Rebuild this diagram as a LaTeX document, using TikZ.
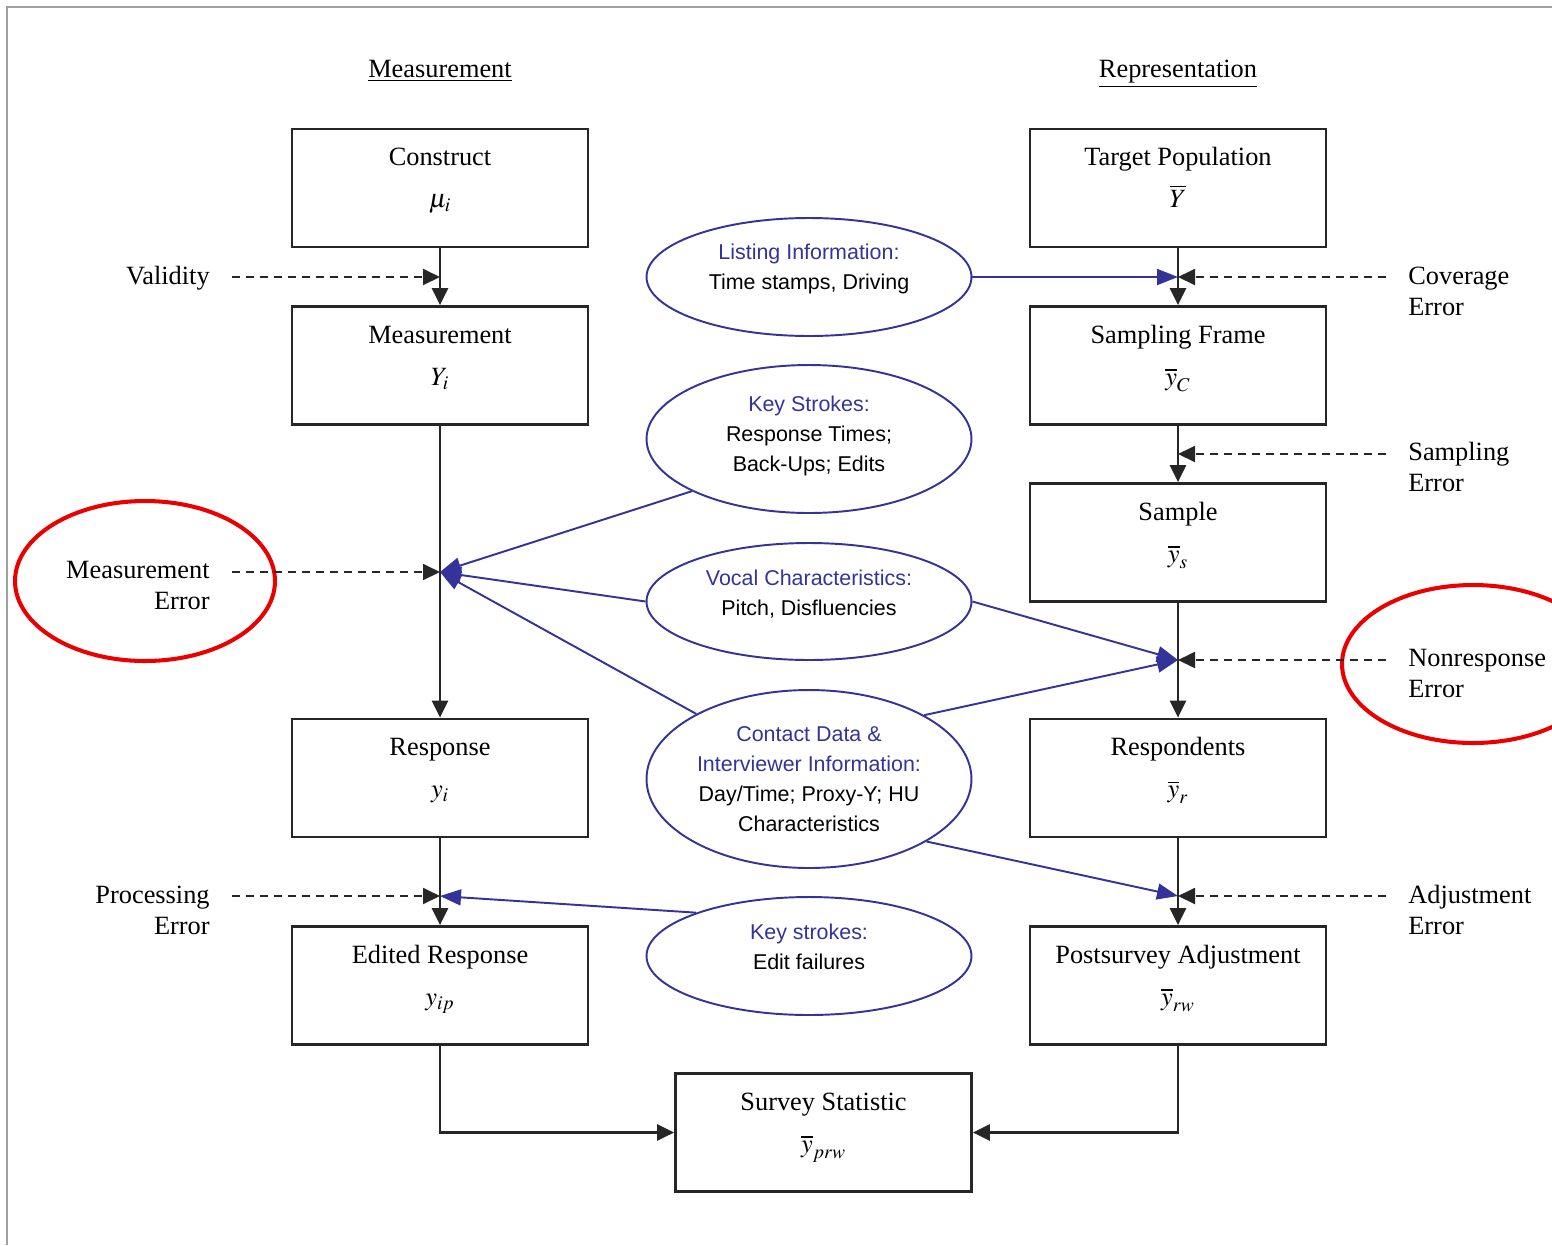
\documentclass[tikz,border=0pt]{standalone}
\usepackage{mathptmx}
\usepackage[no-math]{fontspec}
\setmainfont{Liberation Serif}
\setsansfont{Liberation Sans}
\usepackage{tikz}
\usetikzlibrary{arrows.meta,shapes.geometric,positioning,calc}

\definecolor{paradata}{RGB}{51,51,153}
\definecolor{framegray}{RGB}{160,160,160}
\definecolor{circled}{RGB}{235,0,0}

\newcommand{\serifbig}{\fontsize{15}{17.6}\selectfont}
\newcommand{\sansinfo}{\sffamily\fontsize{12.2}{17}\selectfont}

\tikzset{
  box/.style={draw=black!85,line width=1.6pt,minimum width=5.92cm,
    minimum height=2.36cm,inner sep=0pt},
  boxtitle/.style={font=\serifbig,inner sep=0pt,anchor=base},
  boxsym/.style={font=\serifbig,inner sep=0pt,anchor=base},
  heading/.style={font=\serifbig,inner sep=0pt,anchor=base},
  errlabel/.style={font=\serifbig,inner sep=0pt},
  bubble/.style={ellipse,draw=paradata,line width=1.1pt,minimum width=6.5cm,
    inner sep=0pt},
  bubbletext/.style={inner sep=0pt,align=center,font=\sansinfo},
  flow/.style={draw=black!85,line width=1.4pt,
    -{Triangle[length=0.34cm,width=0.32cm]}},
  errflow/.style={black!85,line width=1.1pt,dash pattern=on 0.16cm off 0.12cm,
    -{Triangle[length=0.34cm,width=0.32cm]},shorten <=0.44cm},
  paraflow/.style={draw=paradata,line width=1.1pt,
    -{Triangle[length=0.42cm,width=0.32cm]}},
}

\begin{document}
\begin{tikzpicture}[x=0.02cm,y=-0.02cm]
      \clip (0,0) rectangle (1552,1245);
      \draw[framegray,line width=1.6pt] (6,7) -- (1552,7);
      \draw[framegray,line width=1.6pt] (7,7) -- (7,1245);

      % junctions on the two columns
      \coordinate (jv) at (440,277);
      \coordinate (jm) at (440,572);
      \coordinate (jp) at (440,896);
      \coordinate (jc) at (1178,277);
      \coordinate (js) at (1178,454);
      \coordinate (jn) at (1178,660);
      \coordinate (ja) at (1178,896);

      \node[heading] (mhead) at (440,77) {\underline{Measurement}};
      \node[heading] (rhead) at (1178,77) {\underline{Representation}};

      % measurement side
      \node[box] (cons) at (440,188) {};
      \node[boxtitle] at ($(cons.north)+(0,38)$) {Construct};
      \node[boxsym] at ($(cons.north)+(0,80)$) {$\mu_i$};

      \node[box] (meas) at (440,365.5) {};
      \node[boxtitle] at ($(meas.north)+(0,38)$) {Measurement};
      \node[boxsym] at ($(meas.north)+(0,80)$) {$Y_i$};

      \node[box] (resp) at (440,778) {};
      \node[boxtitle] at ($(resp.north)+(0,38)$) {Response};
      \node[boxsym] at ($(resp.north)+(0,80)$) {$y_i$};

      \node[box] (edit) at (440,985.5) {};
      \node[boxtitle] at ($(edit.north)+(0,38)$) {Edited Response};
      \node[boxsym] at ($(edit.north)+(0,80)$) {$y_{ip}$};

      % representation side
      \node[box] (targ) at (1178,188) {};
      \node[boxtitle] at ($(targ.north)+(0,38)$) {Target Population};
      \node[boxsym] at ($(targ.north)+(0,80)$) {$\overline{Y}$};

      \node[box] (frame) at (1178,365.5) {};
      \node[boxtitle] at ($(frame.north)+(0,38)$) {Sampling Frame};
      \node[boxsym] at ($(frame.north)+(0,80)$) {$\overline{y}_C$};

      \node[box] (samp) at (1178,542.5) {};
      \node[boxtitle] at ($(samp.north)+(0,38)$) {Sample};
      \node[boxsym] at ($(samp.north)+(0,80)$) {$\overline{y}_s$};

      \node[box] (resps) at (1178,778) {};
      \node[boxtitle] at ($(resps.north)+(0,38)$) {Respondents};
      \node[boxsym] at ($(resps.north)+(0,80)$) {$\overline{y}_r$};

      \node[box] (post) at (1178,985.5) {};
      \node[boxtitle] at ($(post.north)+(0,38)$) {Postsurvey Adjustment};
      \node[boxsym] at ($(post.north)+(0,80)$) {$\overline{y}_{rw}$};

      \node[box] (stat) at (823.5,1132.5) {};
      \node[boxtitle] at ($(stat.north)+(0,38)$) {Survey Statistic};
      \node[boxsym] at ($(stat.north)+(0,80)$) {$\overline{y}_{prw}$};

      % paradata bubbles
      \node[bubble,minimum height=2.36cm] (listing) at (809,277) {};
      \node[bubbletext] at ($(listing)+(0,-8)$)
        {\textcolor{paradata}{Listing Information:}\\Time stamps, Driving};
      \node[bubble,minimum height=2.96cm] (keys) at (809,439) {};
      \node[bubbletext] at ($(keys)+(0,-3)$)
        {\textcolor{paradata}{Key Strokes:}\\Response Times;\\Back-Ups; Edits};
      \node[bubble,minimum height=2.34cm] (vocal) at (809,601.5) {};
      \node[bubbletext] at ($(vocal)+(0,-7)$)
        {\textcolor{paradata}{Vocal Characteristics:}\\Pitch, Disfluencies};
      \node[bubble,minimum height=3.56cm] (contact) at (809,779) {};
      \node[bubbletext] at (contact)
        {\textcolor{paradata}{Contact Data \&}\\\textcolor{paradata}{Interviewer Information:}\\Day/Time; Proxy-Y; HU\\Characteristics};
      \node[bubble,minimum height=2.36cm] (editks) at (809,956) {};
      \node[bubbletext] at ($(editks)+(0,-9)$)
        {\textcolor{paradata}{Key strokes:}\\Edit failures};

      % error sources
      \node[errlabel,anchor=base east] (valid) at (210,284) {Validity};
      \node[errlabel,anchor=base east,align=right] (merr) at (210,609) {Measurement\\Error};
      \node[errlabel,anchor=base east,align=right] (perr) at (210,934) {Processing\\Error};
      \node[errlabel,anchor=base west,align=left] (cerr) at (1408,315) {Coverage\\Error};
      \node[errlabel,anchor=base west,align=left] (serr) at (1408,491) {Sampling\\Error};
      \node[errlabel,anchor=base west,align=left] (nerr) at (1408,697) {Nonresponse\\Error};
      \node[errlabel,anchor=base west,align=left] (aerr) at (1408,934) {Adjustment\\Error};

      \draw[circled,line width=2.3pt] (145,581) ellipse [x radius=2.6cm,y radius=1.6cm];
      \draw[circled,line width=2.3pt] (1473,664) ellipse [x radius=2.62cm,y radius=1.58cm];

      % main flow
      \draw[flow] (cons) -- (meas);
      \draw[flow] (meas) -- (resp);
      \draw[flow] (resp) -- (edit);
      \draw[flow] (edit.south) |- (stat.west);
      \draw[flow] (targ) -- (frame);
      \draw[flow] (frame) -- (samp);
      \draw[flow] (samp) -- (resps);
      \draw[flow] (resps) -- (post);
      \draw[flow] (post.south) |- (stat.east);

      \draw[errflow] (valid.east |- jv) -- (jv);
      \draw[errflow] (merr.east |- jm) -- (jm);
      \draw[errflow] (perr.east |- jp) -- (jp);
      \draw[errflow] (cerr.west |- jc) -- (jc);
      \draw[errflow] (serr.west |- js) -- (js);
      \draw[errflow] (nerr.west |- jn) -- (jn);
      \draw[errflow] (aerr.west |- ja) -- (ja);

      \draw[paraflow] (listing.east) -- (jc);
      \draw[paraflow] (keys.204.5) -- (jm);
      \draw[paraflow] (vocal.west) -- (jm);
      \draw[paraflow] (contact.150.7) -- (jm);
      \draw[paraflow] (vocal.east) -- (jn);
      \draw[paraflow] (contact.29.3) -- (jn);
      \draw[paraflow] (contact.-28.5) -- (ja);
      \draw[paraflow] (editks.159.7) -- (jp);
\end{tikzpicture}
\end{document}
